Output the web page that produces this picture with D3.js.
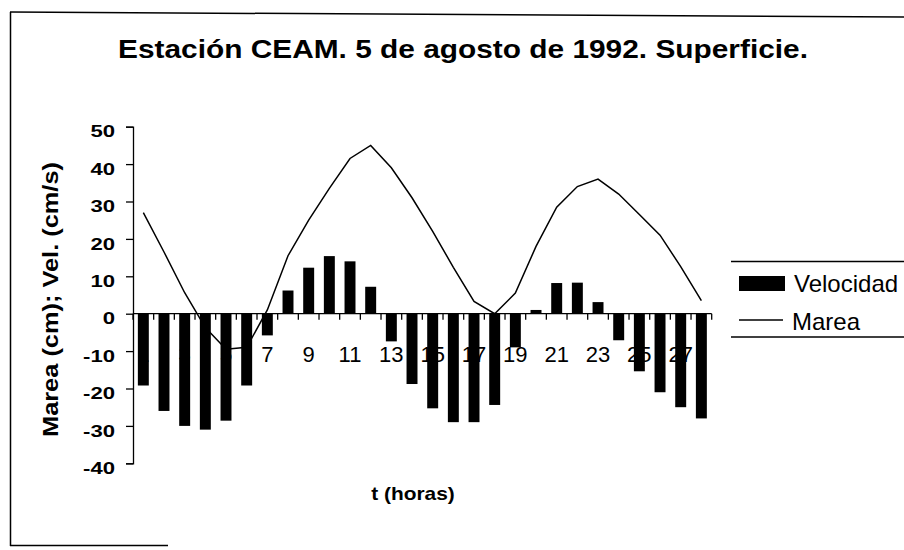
<!DOCTYPE html>
<html>
<head>
<meta charset="utf-8">
<script src="https://cdn.jsdelivr.net/npm/d3@7"></script>
<style>
  html, body { margin: 0; padding: 0; background: #fff; }
  svg { display: block; }
  text { font-family: "Liberation Sans", Arial, sans-serif; fill: #000; }
</style>
</head>
<body>
<svg id="viz" width="904" height="550"></svg>
<script>
// hourly categories (t in hours)
const horas = d3.range(1, 29);

// current speed (cm/s), bars
const velocidad = [
  -19.2, -26, -30, -31, -28.6, -19.2, -5.8, 6.2, 12.3, 15.4,
  14, 7.2, -7.4, -18.8, -25.3, -29, -29, -24.4, -9, 1,
  8.2, 8.3, 3.1, -7.1, -15.4, -21, -25, -28
];

// tide level (cm), line
const marea = [
  27, 16.5, 5.6, -3.7, -9.5, -9, 1, 15.5, 25, 33.5,
  41.5, 45, 39, 31, 22, 12.4, 3.3, 0, 5.5, 18,
  28.5, 34, 36, 32, 26.5, 21, 12.6, 3.5
];

const yTicks = [-40, -30, -20, -10, 0, 10, 20, 30, 40, 50];
const xLabels = horas.filter((h) => h % 2 === 1);

const titulo = "Estación CEAM. 5 de agosto de 1992. Superficie.";
const tituloY = "Marea (cm); Vel. (cm/s)";
const tituloX = "t (horas)";

const svg = d3.select("#viz");

// stretch a text element to a target width (scan looks wider than arial)
function stretchTo(sel, w) {
  sel.attr("textLength", w).attr("lengthAdjust", "spacingAndGlyphs");
}
function stretchBy(sel, f) {
  sel.each(function () {
    const w = this.getComputedTextLength();
    d3.select(this).attr("textLength", w * f).attr("lengthAdjust", "spacingAndGlyphs");
  });
}

// outer frame (scanned page, slightly skewed top edge)
svg.append("line")
  .attr("x1", 10).attr("y1", 12).attr("x2", 904).attr("y2", 17)
  .attr("stroke", "#000").attr("stroke-width", 1.5);
svg.append("line")
  .attr("x1", 10.5).attr("y1", 12).attr("x2", 10.5).attr("y2", 546)
  .attr("stroke", "#000").attr("stroke-width", 1.5);
svg.append("line")
  .attr("x1", 10).attr("y1", 545.5).attr("x2", 168).attr("y2", 545.5)
  .attr("stroke", "#000").attr("stroke-width", 1.5);

// scales
const x = d3.scaleBand().domain(horas).range([133, 711.7]).paddingInner(0.47).paddingOuter(0.235);
const xb = d3.scaleBand().domain(horas).range([133, 711.7]);
const y = d3.scaleLinear().domain([-40, 50]).range([463.3, 126.7]);

// title
svg.append("text")
  .attr("x", 118).attr("y", 57.5)
  .attr("font-size", 26.5).attr("font-weight", "bold")
  .text(titulo)
  .call(stretchTo, 690);

// y axis (plain hyphen for negatives, like the original)
const yAxis = svg.append("g")
  .attr("transform", "translate(133,0)")
  .call(d3.axisLeft(y).tickValues(yTicks).tickSize(7).tickPadding(0).tickFormat((d) => String(d)));
yAxis.select(".domain").attr("stroke", "#000").attr("stroke-width", 1.3);
yAxis.selectAll(".tick line").attr("stroke", "#000").attr("stroke-width", 1.3);
yAxis.selectAll(".tick text")
  .attr("x", -18).attr("dy", "0.6em")
  .attr("font-size", 17).attr("font-weight", "bold")
  .attr("font-family", "'Liberation Sans', Arial, sans-serif")
  .call(stretchBy, 1.3);

// y title
svg.append("text")
  .attr("transform", "translate(58,299.5) rotate(-90)")
  .attr("text-anchor", "middle")
  .attr("font-size", 22).attr("font-weight", "bold")
  .text(tituloY)
  .call(stretchTo, 275);

// x tick labels drawn first: bars cover some of them, as in the original
svg.append("g").selectAll("text")
  .data(xLabels)
  .join("text")
  .attr("x", (d) => xb(d) + xb.bandwidth() / 2)
  .attr("y", 362)
  .attr("text-anchor", "middle")
  .attr("font-size", 22)
  .text((d) => d);

// x axis line with ticks on category boundaries
svg.append("line")
  .attr("x1", 133).attr("x2", 711.7)
  .attr("y1", y(0)).attr("y2", y(0))
  .attr("stroke", "#000").attr("stroke-width", 1.3);
svg.append("g").selectAll("line")
  .data(d3.range(0, horas.length + 1))
  .join("line")
  .attr("x1", (i) => 133 + i * xb.step())
  .attr("x2", (i) => 133 + i * xb.step())
  .attr("y1", y(0)).attr("y2", y(0) + 6)
  .attr("stroke", "#000").attr("stroke-width", 1.3);

// bars
svg.append("g").selectAll("rect")
  .data(horas)
  .join("rect")
  .attr("x", (d) => x(d))
  .attr("width", x.bandwidth())
  .attr("y", (d, i) => y(Math.max(0, velocidad[i])))
  .attr("height", (d, i) => Math.abs(y(velocidad[i]) - y(0)))
  .attr("fill", "#000");

// tide line
const line = d3.line()
  .x((d, i) => xb(horas[i]) + xb.bandwidth() / 2)
  .y((d) => y(d));
svg.append("path")
  .datum(marea)
  .attr("d", line)
  .attr("fill", "none")
  .attr("stroke", "#000")
  .attr("stroke-width", 1.5);

// x title
svg.append("text")
  .attr("x", 413).attr("y", 500)
  .attr("text-anchor", "middle")
  .attr("font-size", 19).attr("font-weight", "bold")
  .text(tituloX)
  .call(stretchBy, 1.1);

// legend
const lg = svg.append("g");
lg.append("line").attr("x1", 731).attr("x2", 904).attr("y1", 261.5).attr("y2", 261.5)
  .attr("stroke", "#000").attr("stroke-width", 1.5);
lg.append("line").attr("x1", 731).attr("x2", 904).attr("y1", 337).attr("y2", 337)
  .attr("stroke", "#000").attr("stroke-width", 1.5);
lg.append("rect").attr("x", 739).attr("y", 276).attr("width", 46).attr("height", 15).attr("fill", "#000");
lg.append("text").attr("x", 794).attr("y", 291.5).attr("font-size", 24).text("Velocidad");
lg.append("line").attr("x1", 739).attr("x2", 783).attr("y1", 320).attr("y2", 320)
  .attr("stroke", "#000").attr("stroke-width", 1.5);
lg.append("text").attr("x", 792).attr("y", 330).attr("font-size", 24).text("Marea");
</script>
</body>
</html>
